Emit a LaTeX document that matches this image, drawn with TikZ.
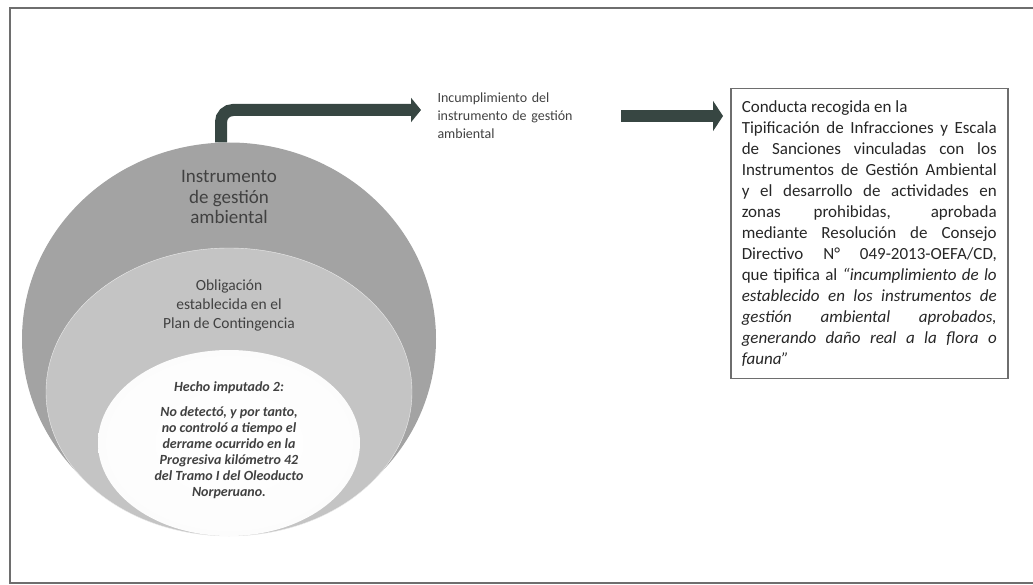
\documentclass[tikz,border=0pt]{standalone}
\usepackage{fontspec}
\setmainfont{Carlito}
\usetikzlibrary{shapes.geometric,arrows.meta,positioning}

\definecolor{arrowgreen}{RGB}{55,70,66}
\definecolor{ringdark}{RGB}{163,163,163}
\definecolor{ringmid}{RGB}{196,196,196}
\definecolor{txtgray}{RGB}{65,65,65}
\definecolor{framegray}{RGB}{110,110,110}

\pgfdeclareradialshading{innerglow}{\pgfpoint{0bp}{0bp}}{color(0bp)=(white); color(36bp)=(white!97!gray); color(50bp)=(ringmid)}

\tikzset{
  ring/.style={ellipse, inner sep=0pt},
  ringtext/.style={align=center, text=txtgray},
  bigarrow/.style={draw=arrowgreen, line width=12pt,
                   -{Triangle[length=10pt,width=24pt]}},
}

\begin{document}
\begin{tikzpicture}[x=1pt, y=1pt]
            \useasboundingbox (0,0) rectangle (1033,-585);
            \draw[framegray, line width=1.5pt] (1033,-8) -- (10,-8) -- (10,-583) -- (1033,-583);

            % nested circles
            \node[ring, fill=ringdark, minimum width=414pt, minimum height=393pt] (outer) at (229,-339) {};
            \node[ring, fill=ringmid, draw=white!85!gray, minimum width=366pt, minimum height=288pt] (middle) at (229,-392) {};
            \node[ring, shading=innerglow, minimum width=262pt, minimum height=186pt] (inner) at (229,-443) {};

            \node[ringtext, font=\fontsize{19}{20.5}\selectfont] (igatext) at (229,-197) {Instrumento\\de gestión\\ambiental};
            \node[ringtext, font=\fontsize{15.5}{19}\selectfont] (obligtext) at (229,-305) {Obligación\\establecida en el\\Plan de Contingencia};
            \node[ringtext, font=\fontsize{14}{16}\selectfont\bfseries\itshape] (hechotext) at (229,-440)
                {Hecho imputado 2:\\[9pt] No detectó, y por tanto,\\no controló a tiempo el\\derrame ocurrido en la\\Progresiva kilómetro 42\\del Tramo I del Oleoducto\\Norperuano.};

            \node[anchor=west, text width=150pt, align=left, text=txtgray, font=\fontsize{14}{18}\selectfont] (incumpl) at (434,-116)
                {Incumplimiento del\\instrumento de gestión\\ambiental};

            \node[draw=framegray, line width=1.5pt, anchor=north west, text width=255pt, align=justify,
                  inner xsep=11pt, inner ysep=12pt, text=black!85, font=\fontsize{17}{21}\selectfont] (tipif) at (730,-88)
                {Conducta recogida en la\\
                 Tipificación de Infracciones y Escala\linebreak
                 de Sanciones vinculadas con los\linebreak
                 Instrumentos de Gestión Ambiental\linebreak
                 y el desarrollo de actividades en\linebreak
                 zonas prohibidas, aprobada\linebreak
                 mediante Resolución de Consejo\linebreak
                 Directivo N° 049-2013-OEFA/CD,\linebreak
                 que tipifica al \textit{“incumplimiento de lo\linebreak
                 establecido en los instrumentos de\linebreak
                 gestión ambiental aprobados,\linebreak
                 generando daño real a la flora o\linebreak
                 fauna”}};

            \draw[bigarrow, rounded corners=12pt] ([xshift=-8pt]outer.north) |- ([xshift=-13pt,yshift=6pt]incumpl.west);
            \draw[bigarrow, -{Triangle[length=10pt,width=30pt]}] ([xshift=30pt]incumpl.east) -- ([xshift=-7pt]tipif.west |- incumpl.east);
        \end{tikzpicture}
\end{document}
